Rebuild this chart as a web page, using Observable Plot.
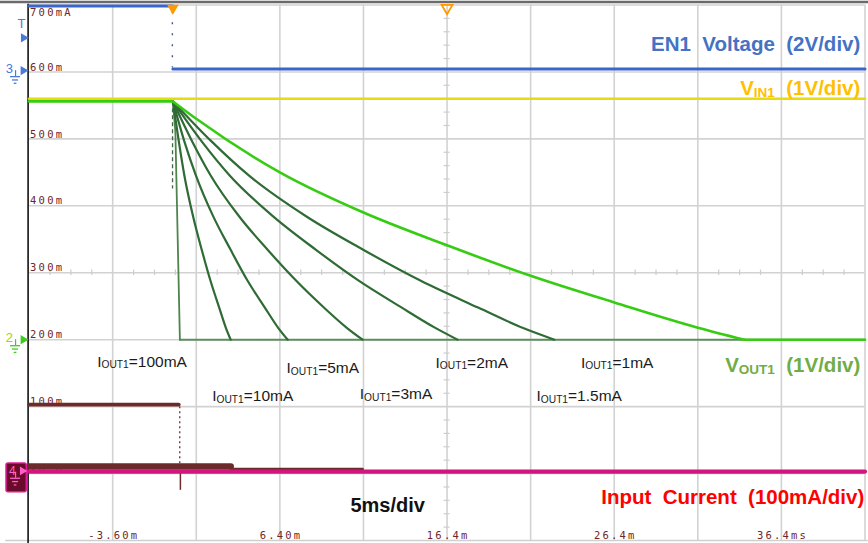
<!DOCTYPE html>
<html><head><meta charset="utf-8">
<script src="https://cdn.jsdelivr.net/npm/d3@7"></script>
<script src="https://cdn.jsdelivr.net/npm/@observablehq/plot@0.6"></script>
<style>
html,body{margin:0;padding:0;background:#fff;}
#chart svg{display:block;}
#chart svg text{white-space:pre;}
#chart g[font-family^="DejaVu Sans Mono"] text{letter-spacing:2.2px;}
</style></head><body><div id="chart"></div>
<script>
// ===== DATA =====
const gridTimes = [-8.6, -3.6, 1.4, 6.4, 11.4, 16.4, 21.4, 26.4, 31.4, 36.4, 41.4]; // ms
const gridLevels = [-100, 0, 100, 200, 300, 400, 500, 600, 700];               // screen units (ch4 mA)
const xTickValues = [-3.6, 6.4, 16.4, 26.4, 36.4];
const xTickLabels = ["-3.60m", "6.40m", "16.4m", "26.4m", "36.4ms"];
const yTickValues = [600, 500, 400, 300, 200, 100, 0];
const yTickLabels = ["600m", "500m", "400m", "300m", "200m", "100m", "-0.0"];
const yTopValue = 700;
const yTopLabel = "700mA";

const loadLabels = ["100mA", "10mA", "5mA", "3mA", "2mA", "1.5mA", "1mA"];

// EN1 voltage (V)
const en1HighTime = [-8.6, 0];
const en1HighVolt = [1.97, 1.97];
const en1LowTime = [0, 41.4];
const en1LowVolt = [0.09, 0.09];

// VIN1 (V)
const vinTime = [-8.6, 41.4];
const vinVolt = [3.60, 3.60];

// VOUT1 before the enable edge (V)
const voutPreTime = [-8.6, 0];
const voutPreVolt = [3.56, 3.56];
// VOUT1 discharge curves (ms, V)
const vout100Time = [0, 0.15, 0.42];
const vout100Volt = [3.56, 3.10, 0.00];
const vout10Time = [0, 0.35, 0.69, 1.21, 1.73, 2.25, 2.77, 3.18, 3.46];
const vout10Volt = [3.56, 2.97, 2.45, 1.84, 1.34, 0.88, 0.48, 0.17, 0.00];
const vout5Time = [0, 0.69, 1.37, 2.40, 3.44, 4.47, 5.50, 6.32, 6.87];
const vout5Volt = [3.56, 2.96, 2.46, 1.85, 1.35, 0.88, 0.48, 0.17, 0.00];
const vout3Time = [0, 1.14, 2.27, 3.97, 5.68, 7.38, 9.08, 10.44, 11.35];
const vout3Volt = [3.56, 2.97, 2.45, 1.84, 1.34, 0.88, 0.47, 0.17, 0.00];
const vout2Time = [0, 1.70, 3.41, 5.96, 8.52, 11.07, 13.62, 15.67, 17.03];
const vout2Volt = [3.56, 2.97, 2.45, 1.85, 1.35, 0.89, 0.49, 0.18, 0.00];
const vout15Time = [0, 2.28, 4.56, 7.99, 11.41, 14.83, 18.26, 20.99, 22.82];
const vout15Volt = [3.56, 2.97, 2.45, 1.84, 1.34, 0.88, 0.48, 0.17, 0.00];
const vout1Time = [0, 1.4, 6.4, 11.4, 16.4, 21.4, 26.4, 31.4, 34.2];
const vout1Volt = [3.56, 3.30, 2.50, 1.90, 1.41, 0.955, 0.557, 0.18, 0.00];
// VOUT1 after discharge (V)
const voutZeroTime = [0.42, 41.4];
const voutZeroVolt = [0, 0];
const vout1FlatTime = [34.2, 41.4];
const vout1FlatVolt = [0, 0];

// Input current (mA)
const iinHighTime = [-8.6, 0.35];
const iinHighVal = [103, 103];
const iinDropTime = [0.41];
const iinBandTime = [-8.6, 3.46];
const iinBandVal = [10.5, 10.5];
const iinThinTime = [3.46, 11.35];
const iinThinVal = [7, 7];
const iinBaseTime = [-8.6, 41.4];
const iinBaseVal = [3, 3];

// scope channel settings: screen = offset + value / perDiv * 100
const ch = {
  en1: {offset: 600, perDiv: 2},
  vin: {offset: 200, perDiv: 1},
  vout: {offset: 200, perDiv: 1},
  iin: {offset: 0, perDiv: 100}
};
const rows = (T, V, c) => T.map((t, i) => ({t, y: c.offset + V[i] / c.perDiv * 100}));

// ===== CHART =====
const sans = "Liberation Sans";
const mono = "DejaVu Sans Mono";
const maroon = "#6e2626";
const darkGreen = "#2f6b34";
const brightGreen = "#35cc12";
const magenta = "#d3157f";

const minorT = d3.range(0, 41).map(k => -8.6 + k * 1.25).filter((t, k) => k % 4 !== 0);
const minorV = d3.range(0, 41).map(k => -100 + k * 20).filter((v, k) => k % 5 !== 0);

function ground(t, v, color) {
  return [
    Plot.ruleX([t], {x: d => d, y1: v, y2: v - 9, stroke: color, strokeWidth: 1.2}),
    Plot.ruleY([v - 9], {y: d => d, x1: t - 0.30, x2: t + 0.30, stroke: color, strokeWidth: 1.3}),
    Plot.ruleY([v - 14], {y: d => d, x1: t - 0.18, x2: t + 0.18, stroke: color, strokeWidth: 1.3}),
    Plot.ruleY([v - 19], {y: d => d, x1: t - 0.08, x2: t + 0.08, stroke: color, strokeWidth: 1.3})
  ];
}

const darkCurves = [
  [vout10Time, vout10Volt], [vout5Time, vout5Volt], [vout3Time, vout3Volt],
  [vout2Time, vout2Volt], [vout15Time, vout15Volt]
];

const labelStyle = {fontFamily: sans, fontSize: 15.5, fill: "#1b1b1b", textAnchor: "start", lineAnchor: "bottom"};
const monoStyle = {fontFamily: mono, fontSize: 10.5, fill: maroon, lineAnchor: "bottom"};

const plot = Plot.plot({
  width: 868, height: 543,
  marginLeft: 28.6, marginRight: 3.5, marginTop: 4.5, marginBottom: 3,
  x: {domain: [-8.6, 41.4], axis: null},
  y: {domain: [-100, 700], axis: null},
  style: {background: "#fff", overflow: "visible"},
  marks: [
    // grid
    Plot.ruleX(gridTimes.slice(1), {x: d => d, y1: -100, y2: 700, stroke: "#d2d2d2", strokeWidth: 1.6}),
    Plot.ruleY(gridLevels.slice(1), {y: d => d, x1: -8.6, x2: 41.4, stroke: "#d2d2d2", strokeWidth: 1.6}),
    Plot.ruleY([-100], {y: d => d, x1: -10.0, x2: 41.6, stroke: "#cfcfcf", strokeWidth: 1.6}),
    Plot.ruleX(minorT, {x: d => d, y1: 296, y2: 304, stroke: "#cdcdcd", strokeWidth: 1.2}),
    Plot.ruleY(minorV, {y: d => d, x1: 16.22, x2: 16.58, stroke: "#cdcdcd", strokeWidth: 1.2}),
    // frame
    Plot.ruleY([704.3], {y: d => d, x1: -10.4, x2: 41.7, stroke: "#6a6a6a", strokeWidth: 2.5}),
    Plot.ruleX([-8.66], {x: d => d, y1: 701, y2: -106, stroke: "#111", strokeWidth: 1.6}),

    // level labels
    Plot.text(yTickValues, {x: -8.54, y: d => d + 2, text: (d, i) => yTickLabels[i], textAnchor: "start", ...monoStyle}),
    Plot.text([yTopValue], {x: -8.54, y: d => d - 17, text: () => yTopLabel, textAnchor: "start", ...monoStyle}),
    Plot.text(xTickValues, {x: d => d, y: -97.6, dx: 1.1, text: (d, i) => xTickLabels[i], textAnchor: "middle", ...monoStyle}),

    // input current (ch4)
    Plot.line(rows(iinBandTime, iinBandVal, ch.iin), {x: "t", y: "y", stroke: "#6b2b2b", strokeWidth: 6.5}),
    Plot.line(rows(iinThinTime, iinThinVal, ch.iin), {x: "t", y: "y", stroke: "#6b2b2b", strokeWidth: 2.5}),
    Plot.line(rows(iinHighTime, iinHighVal, ch.iin), {x: "t", y: "y", stroke: "#6b2b2b", strokeWidth: 3.8}),
    Plot.ruleX(iinDropTime, {x: d => d, y1: 100, y2: 10, stroke: "#7b3b3b", strokeWidth: 1.4, strokeDasharray: "2,3"}),
    Plot.ruleX(iinDropTime, {x: d => d + 0.04, y1: 0, y2: -25, stroke: "#6b2b2b", strokeWidth: 1.5}),
    Plot.line(rows(iinBaseTime, iinBaseVal, ch.iin), {x: "t", y: "y", stroke: magenta, strokeWidth: 4.2}),

    // VOUT1 curves
    Plot.line(rows(voutZeroTime, voutZeroVolt, ch.vout), {x: "t", y: "y", stroke: "#5e8e5e", strokeWidth: 2}),
    Plot.ruleX([-0.02], {x: d => d, y1: 545, y2: 425, stroke: "#3d6b3d", strokeWidth: 1.3, strokeDasharray: "4,3"}),
    Plot.line(rows(vout100Time, vout100Volt, ch.vout), {x: "t", y: "y", stroke: "#4f844f", strokeWidth: 1.8}),
    ...darkCurves.map(([T, V]) => Plot.line(rows(T, V, ch.vout), {x: "t", y: "y", curve: "monotone-x", stroke: darkGreen, strokeWidth: 2.2})),
    Plot.line(rows(voutPreTime, voutPreVolt, ch.vout), {x: "t", y: "y", stroke: brightGreen, strokeWidth: 2.6}),
    Plot.line(rows(vout1Time, vout1Volt, ch.vout), {x: "t", y: "y", curve: "monotone-x", stroke: brightGreen, strokeWidth: 2.6}),
    Plot.line(rows(vout1FlatTime, vout1FlatVolt, ch.vout), {x: "t", y: "y", stroke: brightGreen, strokeWidth: 2.6}),

    // VIN1
    Plot.line(rows(vinTime, vinVolt, ch.vin), {x: "t", y: "y", stroke: "#e2dc10", strokeWidth: 2.6}),

    // EN1
    Plot.line(rows(en1HighTime, en1HighVolt, ch.en1), {x: "t", y: "y", stroke: "#3a66cc", strokeWidth: 3}),
    Plot.line(rows(en1LowTime, en1LowVolt, ch.en1), {x: "t", y: "y", stroke: "#3a66cc", strokeWidth: 3}),
    Plot.ruleX([-0.03], {x: d => d, y1: 690, y2: 606, stroke: "#445577", strokeWidth: 1.4, strokeDasharray: "2,9"}),

    // trigger markers
    Plot.dot([0], {x: d => d, y: 695.5, symbol: "triangle", rotate: 180, r: 4.3, fill: "#ff9900", stroke: "none"}),
    Plot.dot([16.4], {x: d => d, y: 695.5, symbol: "triangle", rotate: 180, r: 4.0, fill: "none", stroke: "#ff9900", strokeWidth: 1.8}),

    // left channel markers
    Plot.text([{t: -9.06, v: 672}], {x: "t", y: "v", text: () => "T", fontFamily: sans, fontSize: 13, fill: "#4a7ad8"}),
    Plot.dot([{t: -8.93, v: 651}], {x: "t", y: "v", symbol: "triangle", rotate: 90, r: 3.4, fill: "#4a7ad8"}),
    Plot.text([{t: -9.78, v: 604}], {x: "t", y: "v", text: () => "3", fontFamily: sans, fontSize: 13, fill: "#4a7ad8"}),
    Plot.dot([{t: -8.95, v: 602}], {x: "t", y: "v", symbol: "triangle", rotate: 90, r: 3.4, fill: "#4a7ad8"}),
    ...ground(-9.41, 602, "#4a7ad8"),
    Plot.text([{t: -9.78, v: 203}], {x: "t", y: "v", text: () => "2", fontFamily: sans, fontSize: 13, fill: "#a8d400"}),
    Plot.dot([{t: -8.95, v: 200}], {x: "t", y: "v", symbol: "triangle", rotate: 90, r: 3.4, fill: "#3ccc1c"}),
    ...ground(-9.41, 200, "#3ccc1c"),
    Plot.rect([{x1: -9.95, x2: -8.74, y1: -28, y2: 15}], {x1: "x1", x2: "x2", y1: "y1", y2: "y2", fill: "#6b0b2b", stroke: "#e0189a", strokeWidth: 1.5, rx: 2}),
    Plot.text([{t: -9.6, v: 4}], {x: "t", y: "v", text: () => "4", fontFamily: sans, fontSize: 12, fill: "#ff5fc8"}),
    Plot.dot([{t: -9.0, v: 4}], {x: "t", y: "v", symbol: "triangle", rotate: 90, r: 3.2, fill: "#ff5fc8"}),
    ...ground(-9.41, 2, "#ff5fc8"),

    // load annotations
    Plot.text([{t: -4.53, v: 159.5, s: "I_{OUT1}=" + loadLabels[0]}], {x: "t", y: "v", text: "s", ...labelStyle}),
    Plot.text([{t: 2.35, v: 108.6, s: "I_{OUT1}=" + loadLabels[1]}], {x: "t", y: "v", text: "s", ...labelStyle}),
    Plot.text([{t: 6.80, v: 149.5, s: "I_{OUT1}=" + loadLabels[2]}], {x: "t", y: "v", text: "s", ...labelStyle}),
    Plot.text([{t: 11.18, v: 111.4, s: "I_{OUT1}=" + loadLabels[3]}], {x: "t", y: "v", text: "s", ...labelStyle}),
    Plot.text([{t: 15.71, v: 158.0, s: "I_{OUT1}=" + loadLabels[4]}], {x: "t", y: "v", text: "s", ...labelStyle}),
    Plot.text([{t: 21.75, v: 108.6, s: "I_{OUT1}=" + loadLabels[5]}], {x: "t", y: "v", text: "s", ...labelStyle}),
    Plot.text([{t: 24.41, v: 158.0, s: "I_{OUT1}=" + loadLabels[6]}], {x: "t", y: "v", text: "s", ...labelStyle}),

    // channel titles
    Plot.text([{t: 41.12, v: 632, s: "EN1  Voltage  (2V/div)"}], {x: "t", y: "v", text: "s",
      fontFamily: sans, fontSize: 20.5, fontWeight: "bold", fill: "#4472c4", textAnchor: "end", lineAnchor: "bottom"}),
    Plot.text([{t: 41.12, v: 566, s: "V_{IN1}  (1V/div)"}], {x: "t", y: "v", text: "s",
      fontFamily: sans, fontSize: 20.5, fontWeight: "bold", fill: "#ffc000", textAnchor: "end", lineAnchor: "bottom"}),
    Plot.text([{t: 41.12, v: 152, s: "V_{OUT1}  (1V/div)"}], {x: "t", y: "v", text: "s",
      fontFamily: sans, fontSize: 20.5, fontWeight: "bold", fill: "#70ad47", textAnchor: "end", lineAnchor: "bottom"}),
    Plot.text([{t: 25.62, v: -45, s: "Input  Current  (100mA/div)"}], {x: "t", y: "v", text: "s",
      fontFamily: sans, fontSize: 20.5, fontWeight: "bold", fill: "#ff0000", textAnchor: "start", lineAnchor: "bottom"}),
    Plot.text([{t: 10.62, v: -58, s: "5ms/div"}], {x: "t", y: "v", text: "s",
      fontFamily: sans, fontSize: 20, fontWeight: "bold", fill: "#111", textAnchor: "start", lineAnchor: "bottom"})
  ]
});

// subscripts
d3.select(plot).selectAll("text").each(function () {
  const s = this.textContent;
  const m = s.match(/^(.*?)_\{(.*?)\}(.*)$/);
  if (!m) return;
  const el = d3.select(this);
  el.text(null);
  el.append("tspan").text(m[1]);
  el.append("tspan").attr("font-size", "66%").attr("dy", "0.16em").text(m[2]);
  el.append("tspan").attr("dy", "-0.106em").text(m[3]);
});

document.getElementById("chart").appendChild(plot);
</script></body></html>
